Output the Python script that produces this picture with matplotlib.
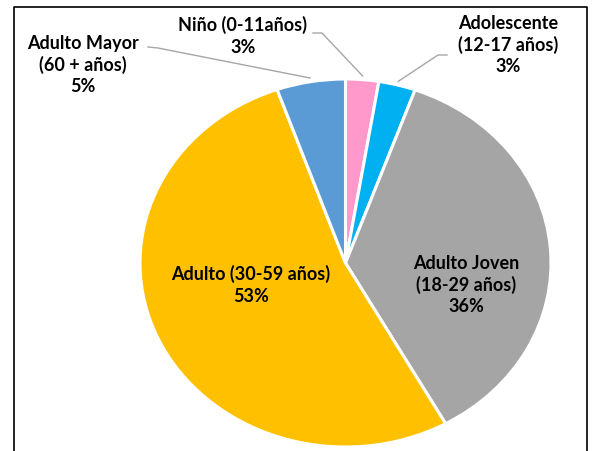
import numpy as np
import matplotlib
matplotlib.use("Agg")
import matplotlib.pyplot as plt
from matplotlib.lines import Line2D

# data (clockwise from 12 o'clock)
labels = ["Niño (0-11años)", "Adolescente\n(12-17 años)", "Adulto Joven\n(18-29 años)",
          "Adulto (30-59 años)", "Adulto Mayor\n(60 + años)"]
values = [2.6, 2.9, 36.4, 52.7, 5.4]
colors = ["#FF99CC", "#00B0F0", "#A5A5A5", "#FFC000", "#5B9BD5"]

W, H = 598, 451
fig = plt.figure(figsize=(W / 100, H / 100), dpi=100)
plt.rcParams['font.family'] = ['Lato', 'DejaVu Sans']


def px(x, y):
    # pixel position -> figure fraction
    return x / W, 1 - y / H


# pie drawn in a slightly wide box (the original is stretched horizontally)
cx, cy, rx, ry = 345.5, 263, 205.5, 184
ax = fig.add_axes([(cx - rx) / W, 1 - (cy + ry) / H, 2 * rx / W, 2 * ry / H])
wedges, _ = ax.pie(values, colors=colors, startangle=90, counterclock=False,
                   wedgeprops=dict(edgecolor="white", linewidth=2.2))
ax.set_aspect("auto")
ax.set_xlim(-1, 1)
ax.set_ylim(-1, 1)

total = sum(values)
pct = [f"{round(v / total * 100):d}%" for v in values]

# label positions (pixels) and leader line bends
inside = {2: (466, 285), 3: (251, 285)}
outside = {0: ((243, 36), [(313, 33), (322, 33)]),
           1: ((508, 45), [(447, 55), (438, 55)]),
           4: ((83, 65), [(148, 47), (158, 48)])}

fs = 13
for i, w in enumerate(wedges):
    text = labels[i] + "\n" + pct[i]
    if i in inside:
        x, y = px(*inside[i])
    else:
        (tx, ty), bends = outside[i]
        x, y = px(tx, ty)
        mid = np.deg2rad((w.theta1 + w.theta2) / 2)
        ex = cx + rx * 1.02 * np.cos(mid)
        ey = cy - ry * 1.02 * np.sin(mid)
        pts = [px(*p) for p in bends] + [px(ex, ey)]
        fig.add_artist(Line2D([p[0] for p in pts], [p[1] for p in pts],
                              transform=fig.transFigure, color="#A6A6A6", lw=1.0))
    fig.text(x, y, text, ha="center", va="center", fontsize=fs,
             fontweight="bold", linespacing=1.3, color="black")

# chart area frame (bottom edge is off the image)
x0, y0 = px(13.5, 6.5)
x1, _ = px(586.5, 6.5)
fig.add_artist(Line2D([x0, x0, x1, x1], [-0.1, y0, y0, -0.1],
                      transform=fig.transFigure, color="black", lw=1.2))

fig.savefig("out.png", dpi=100)
